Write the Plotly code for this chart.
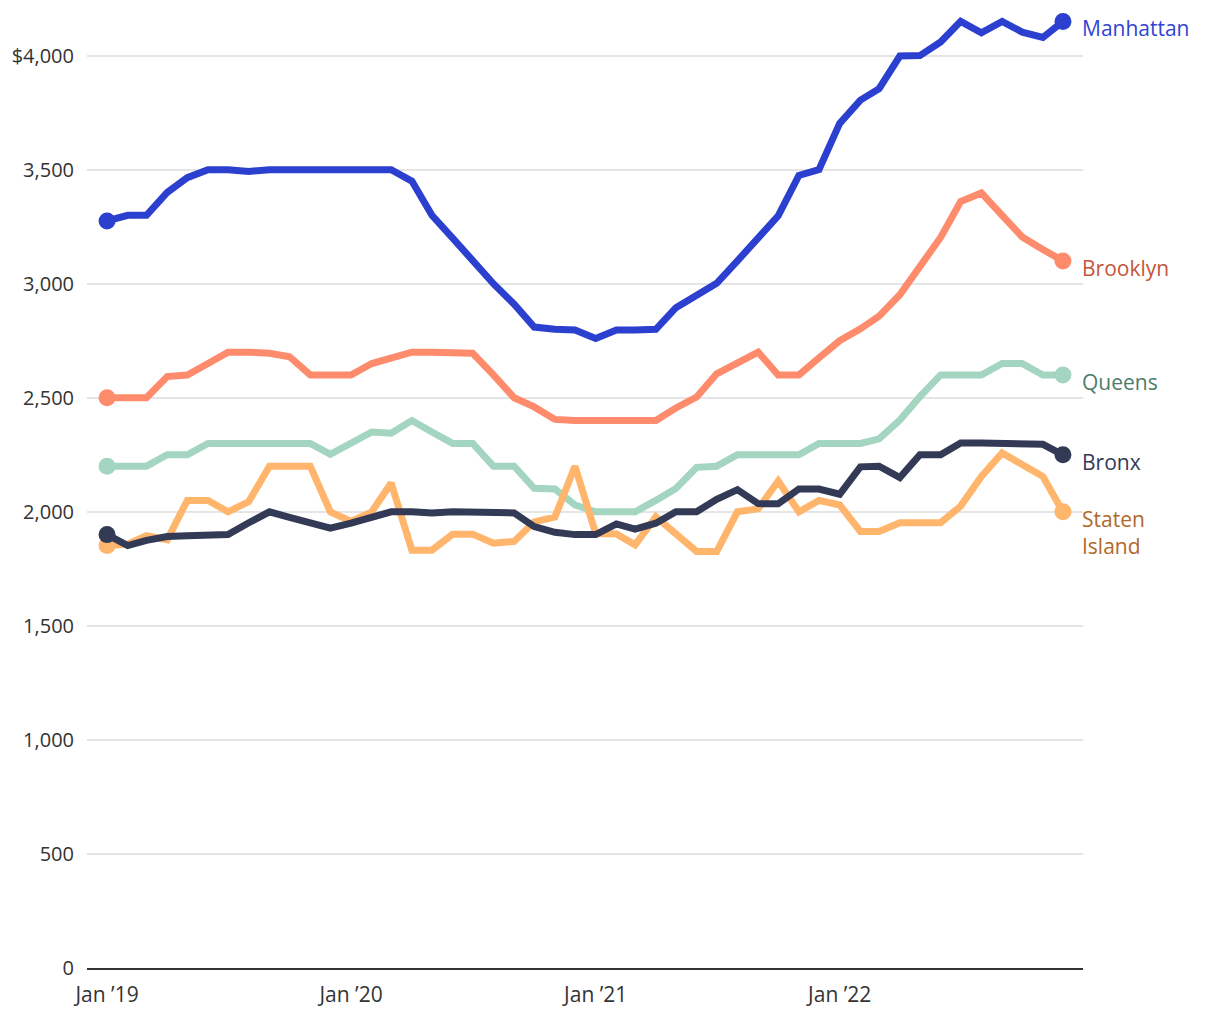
import pandas as pd
import plotly.graph_objects as go

months = pd.date_range("2019-01-01", "2022-12-01", freq="MS")

manhattan = [3275, 3300, 3300, 3400, 3465, 3500, 3500, 3492, 3500, 3500,
             3500, 3500, 3500, 3500, 3500, 3450, 3300, 3200, 3100, 3000,
             2910, 2810, 2800, 2797, 2760, 2797, 2797, 2800, 2895, 2950,
             3002, 3100, 3200, 3298, 3475, 3500, 3703, 3805, 3855, 3998,
             4000, 4060, 4150, 4100, 4150, 4103, 4080, 4150]
brooklyn = [2500, 2500, 2500, 2593, 2600, 2650, 2700, 2700, 2695, 2680,
            2600, 2600, 2600, 2650, 2675, 2700, 2700, 2698, 2695, 2600,
            2500, 2460, 2405, 2400, 2400, 2400, 2400, 2400, 2455, 2503,
            2605, 2655, 2700, 2600, 2600, 2675, 2750, 2802, 2858, 2952,
            3075, 3203, 3360, 3398, 3300, 3205, 3150, 3100]
queens = [2200, 2200, 2200, 2250, 2250, 2300, 2300, 2300, 2300, 2300,
          2300, 2252, 2300, 2350, 2345, 2400, 2350, 2300, 2300, 2200,
          2200, 2103, 2100, 2030, 2000, 2000, 2000, 2050, 2102, 2195,
          2200, 2250, 2250, 2250, 2250, 2300, 2300, 2300, 2320, 2402,
          2505, 2600, 2600, 2600, 2650, 2650, 2600, 2600]
bronx = [1900, 1852, 1875, 1892, 1895, 1900, 1900, 1952, 2000, 1976,
         1952, 1928, 1950, 1975, 2000, 2000, 1995, 2000, 2000, 1995,
         1995, 1935, 1910, 1900, 1900, 1947, 1924, 1950, 2000, 2000,
         2055, 2097, 2036, 2035, 2100, 2100, 2077, 2197, 2200, 2150,
         2250, 2250, 2302, 2302, 2300, 2296, 2296, 2250]
staten = [1852, 1858, 1895, 1877, 2050, 2050, 2000, 2045, 2200, 2200,
          2200, 2000, 1958, 2000, 2126, 1832, 1832, 1902, 1902, 1862,
          1870, 1956, 1977, 2200, 1905, 1903, 1855, 1978, 1900, 1826,
          1826, 2000, 2013, 2135, 2000, 2050, 2030, 1914, 1914, 1952,
          1952, 1952, 2025, 2155, 2258, 2205, 2155, 2000]

names = ["Manhattan", "Brooklyn", "Queens", "Staten Island", "Bronx"]
label_texts = ["Manhattan", "Brooklyn", "Queens", "Staten<br>Island", "Bronx"]
series = [manhattan, brooklyn, queens, staten, bronx]
line_colors = ["#2c40d0", "#ff8b6d", "#a4d5c0", "#ffb56b", "#333a56"]
label_colors = ["#2f45d1", "#c3553a", "#4c7d69", "#b0692a", "#333a56"]

y_ticks = [0, 500, 1000, 1500, 2000, 2500, 3000, 3500, 4000]
y_ticktext = ["0", "500", "1,000", "1,500", "2,000", "2,500", "3,000", "3,500", "$4,000"]
x_tickvals = ["2019-01-01", "2020-01-01", "2021-01-01", "2022-01-01"]
x_ticktext = ["Jan \u201919", "Jan \u201920", "Jan \u201921", "Jan \u201922"]

FONT = "Open Sans"

fig = go.Figure()
for name, vals, lc in zip(names, series, line_colors):
    sizes = [17] + [0] * (len(vals) - 2) + [17]
    fig.add_trace(go.Scatter(
        x=months, y=vals, name=name, mode="lines+markers",
        line=dict(color=lc, width=7),
        marker=dict(size=sizes, color=lc, opacity=1, line=dict(width=0)),
        cliponaxis=False, showlegend=False,
        hovertemplate="%{x|%b %Y}: $%{y:,}<extra>" + name + "</extra>",
    ))

for vals, txt, c in zip(series, label_texts, label_colors):
    fig.add_annotation(
        x=1, xref="paper", y=vals[-1], yref="y",
        text=txt, showarrow=False, xanchor="left", yanchor="top",
        xshift=-3, yshift=9, align="left",
        font=dict(family=FONT, size=21, color=c),
    )

fig.update_layout(
    width=1204, height=1004,
    margin=dict(l=79, r=129, t=2, b=44),
    paper_bgcolor="white", plot_bgcolor="white",
    font=dict(family=FONT, size=20, color="#333333"),
    xaxis=dict(
        range=["2018-12-02", "2022-12-31"],
        tickvals=x_tickvals, ticktext=x_ticktext,
        showgrid=False, zeroline=False,
        showline=True, linecolor="#333333", linewidth=2,
        ticks="outside", ticklen=7, tickcolor="rgba(0,0,0,0)",
        tickfont=dict(family=FONT, size=21, color="#333333"),
    ),
    yaxis=dict(
        range=[0, 4200],
        tickvals=y_ticks, ticktext=y_ticktext,
        showgrid=True, gridcolor="#e5e5e5", gridwidth=2,
        zeroline=False, showline=False,
        ticks="outside", ticklen=8, tickcolor="rgba(0,0,0,0)",
        tickfont=dict(family=FONT, size=20, color="#333333"),
    ),
)

fig.write_html("out.html")
